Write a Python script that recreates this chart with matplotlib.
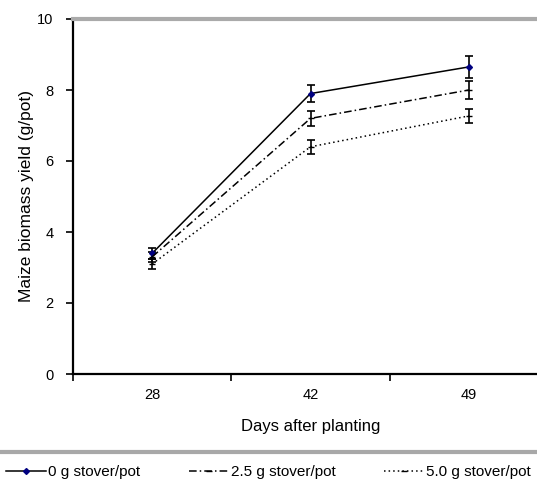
import matplotlib
matplotlib.use("Agg")
import matplotlib.pyplot as plt
from matplotlib.lines import Line2D

plt.rcParams["font.family"] = ["Liberation Sans", "DejaVu Sans"]

days = ["28", "42", "49"]
labels = ["0 g stover/pot", "2.5 g stover/pot", "5.0 g stover/pot"]
yield_0 = [3.4, 7.9, 8.65]
yield_25 = [3.3, 7.2, 8.0]
yield_50 = [3.1, 6.4, 7.27]
err_0 = [0.15, 0.25, 0.3]
err_25 = [0.15, 0.2, 0.25]
err_50 = [0.15, 0.2, 0.2]

fig = plt.figure(figsize=(5.37, 4.87), dpi=100)
ax = fig.add_axes([73 / 537, 113 / 487, 475 / 537, 355 / 487])

x = [i + 0.5 for i in range(len(days))]
styles = [
    dict(ls="-", marker="D", ms=3, mfc="#000080", mec="#000080"),
    dict(ls=(0, (5, 2, 1, 2)), marker="_", ms=5, mec="black"),
    dict(ls=(0, (1, 2)), marker="_", ms=5, mec="black"),
]
handles = []
for ys, es, lab, st in zip([yield_0, yield_25, yield_50],
                           [err_0, err_25, err_50], labels, styles):
    ax.errorbar(x, ys, yerr=es, color="black", lw=1.1, capsize=3,
                elinewidth=1.2, capthick=1.2, **st)
    handles.append(Line2D([], [], color="black", lw=1.1, label=lab, **st))

ax.set_xlim(0, 3)
ax.set_ylim(0, 10)
ax.set_yticks([0, 2, 4, 6, 8, 10])
ax.set_xticks([0, 1, 2, 3])
ax.set_xticklabels([])
ax.set_xticks(x, minor=True)
ax.set_xticklabels(days, minor=True)
ax.tick_params(axis="x", which="minor", length=0, pad=10, labelsize=10.5)
ax.tick_params(axis="x", which="major", length=5, width=1.2, direction="out")
ax.tick_params(axis="y", length=5, width=1.2, direction="out", pad=9, labelsize=10.5)

for s in ["left", "bottom"]:
    ax.spines[s].set_linewidth(1.6)
ax.spines["right"].set_visible(False)
ax.spines["top"].set_color("#aaaaaa")
ax.spines["top"].set_linewidth(3)

ax.set_ylabel("Maize biomass yield (g/pot)", fontsize=12.5, labelpad=2)
ax.set_xlabel("Days after planting", fontsize=12, labelpad=12)

fig.add_artist(Line2D([0, 1], [35 / 487, 35 / 487], color="#a8a8a8", lw=3,
                      transform=fig.transFigure))

fig.legend(handles=handles, loc="center", bbox_to_anchor=(0.5, 15 / 487), ncol=3,
           frameon=False, fontsize=11, handlelength=2.6, handletextpad=0.15,
           columnspacing=3.2)

fig.savefig("out.png", dpi=100)
